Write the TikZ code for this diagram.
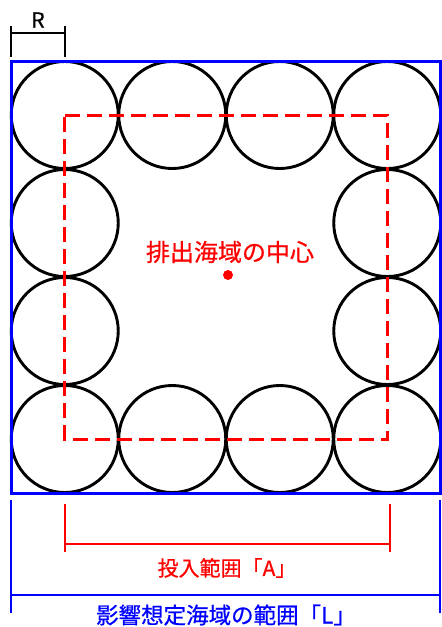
\documentclass[tikz,border=0pt]{standalone}
\usepackage{fontspec}
\setmainfont{Noto Sans CJK JP}[FakeBold=0.7]
\usetikzlibrary{positioning}
\definecolor{zoneblue}{HTML}{0000FF}
\definecolor{dumpred}{HTML}{FF0000}

\begin{document}
\begin{tikzpicture}[
  x=1pt,y=-1pt,
  ring/.style={circle,draw,line width=2.9pt,minimum size=107pt,inner sep=0pt},
  zone/.style={draw=zoneblue,line width=3pt},
  dumparea/.style={draw=dumpred,line width=3pt,dash pattern=on 15pt off 7pt},
  dimline/.style={line width=1.5pt},
  dot/.style={circle,fill=dumpred,minimum size=10pt,inner sep=0pt},
  every node/.style={font=\fontsize{21}{21}\selectfont}
]
  \useasboundingbox (0,0) rectangle (442,627);
  % circles round the edge
  \foreach \i/\x in {1/64.75,2/172.25,3/279.75,4/387.25} {
    \node[ring] (top\i) at (\x,115) {};
    \node[ring] (bot\i) at (\x,439) {};
  }
  \foreach \j/\y in {2/223,3/331} {
    \node[ring] (left\j) at (64.75,\y) {};
    \node[ring] (right\j) at (387.25,\y) {};
  }
  \draw[zone] (11,61) rectangle (440.5,493);
  \draw[dumparea] (top1.center) -- (top4.center) -- (bot4.center) -- (bot1.center) -- cycle;

  % centre of the area
  \node[dot] (center) at (228,275) {};
  \node[text=dumpred,font=\fontsize{24}{24}\selectfont] (centerlabel) at (230,252) {排出海域の中心};

  % R
  \coordinate (rL) at (11,33);
  \coordinate (rR) at (65,33);
  \draw[dimline] (11,26) -- (11,57) (65,26) -- (65,57);
  \draw[dimline] (rL) -- (rR);
  \node (rlabel) at (38,20) {R};

  % ranges at the foot
  \coordinate (aL) at (65,544);
  \coordinate (aR) at (390,544);
  \draw[dimline,dumpred] (65,504) -- (65,552) (390,504) -- (390,552);
  \draw[dimline,dumpred] (aL) -- (aR);
  \node[text=dumpred] (alabel) at (227,568) {投入範囲「A」};

  \coordinate (lL) at (11,595);
  \coordinate (lR) at (440,595);
  \draw[dimline,zoneblue] (11,500) -- (11,613) (440,500) -- (440,613);
  \draw[dimline,zoneblue] (lL) -- (lR);
  \node[text=zoneblue,font=\fontsize{22.5}{22.5}\selectfont] (llabel) at (226,615) {影響想定海域の範囲「L」};
\end{tikzpicture}
\end{document}
